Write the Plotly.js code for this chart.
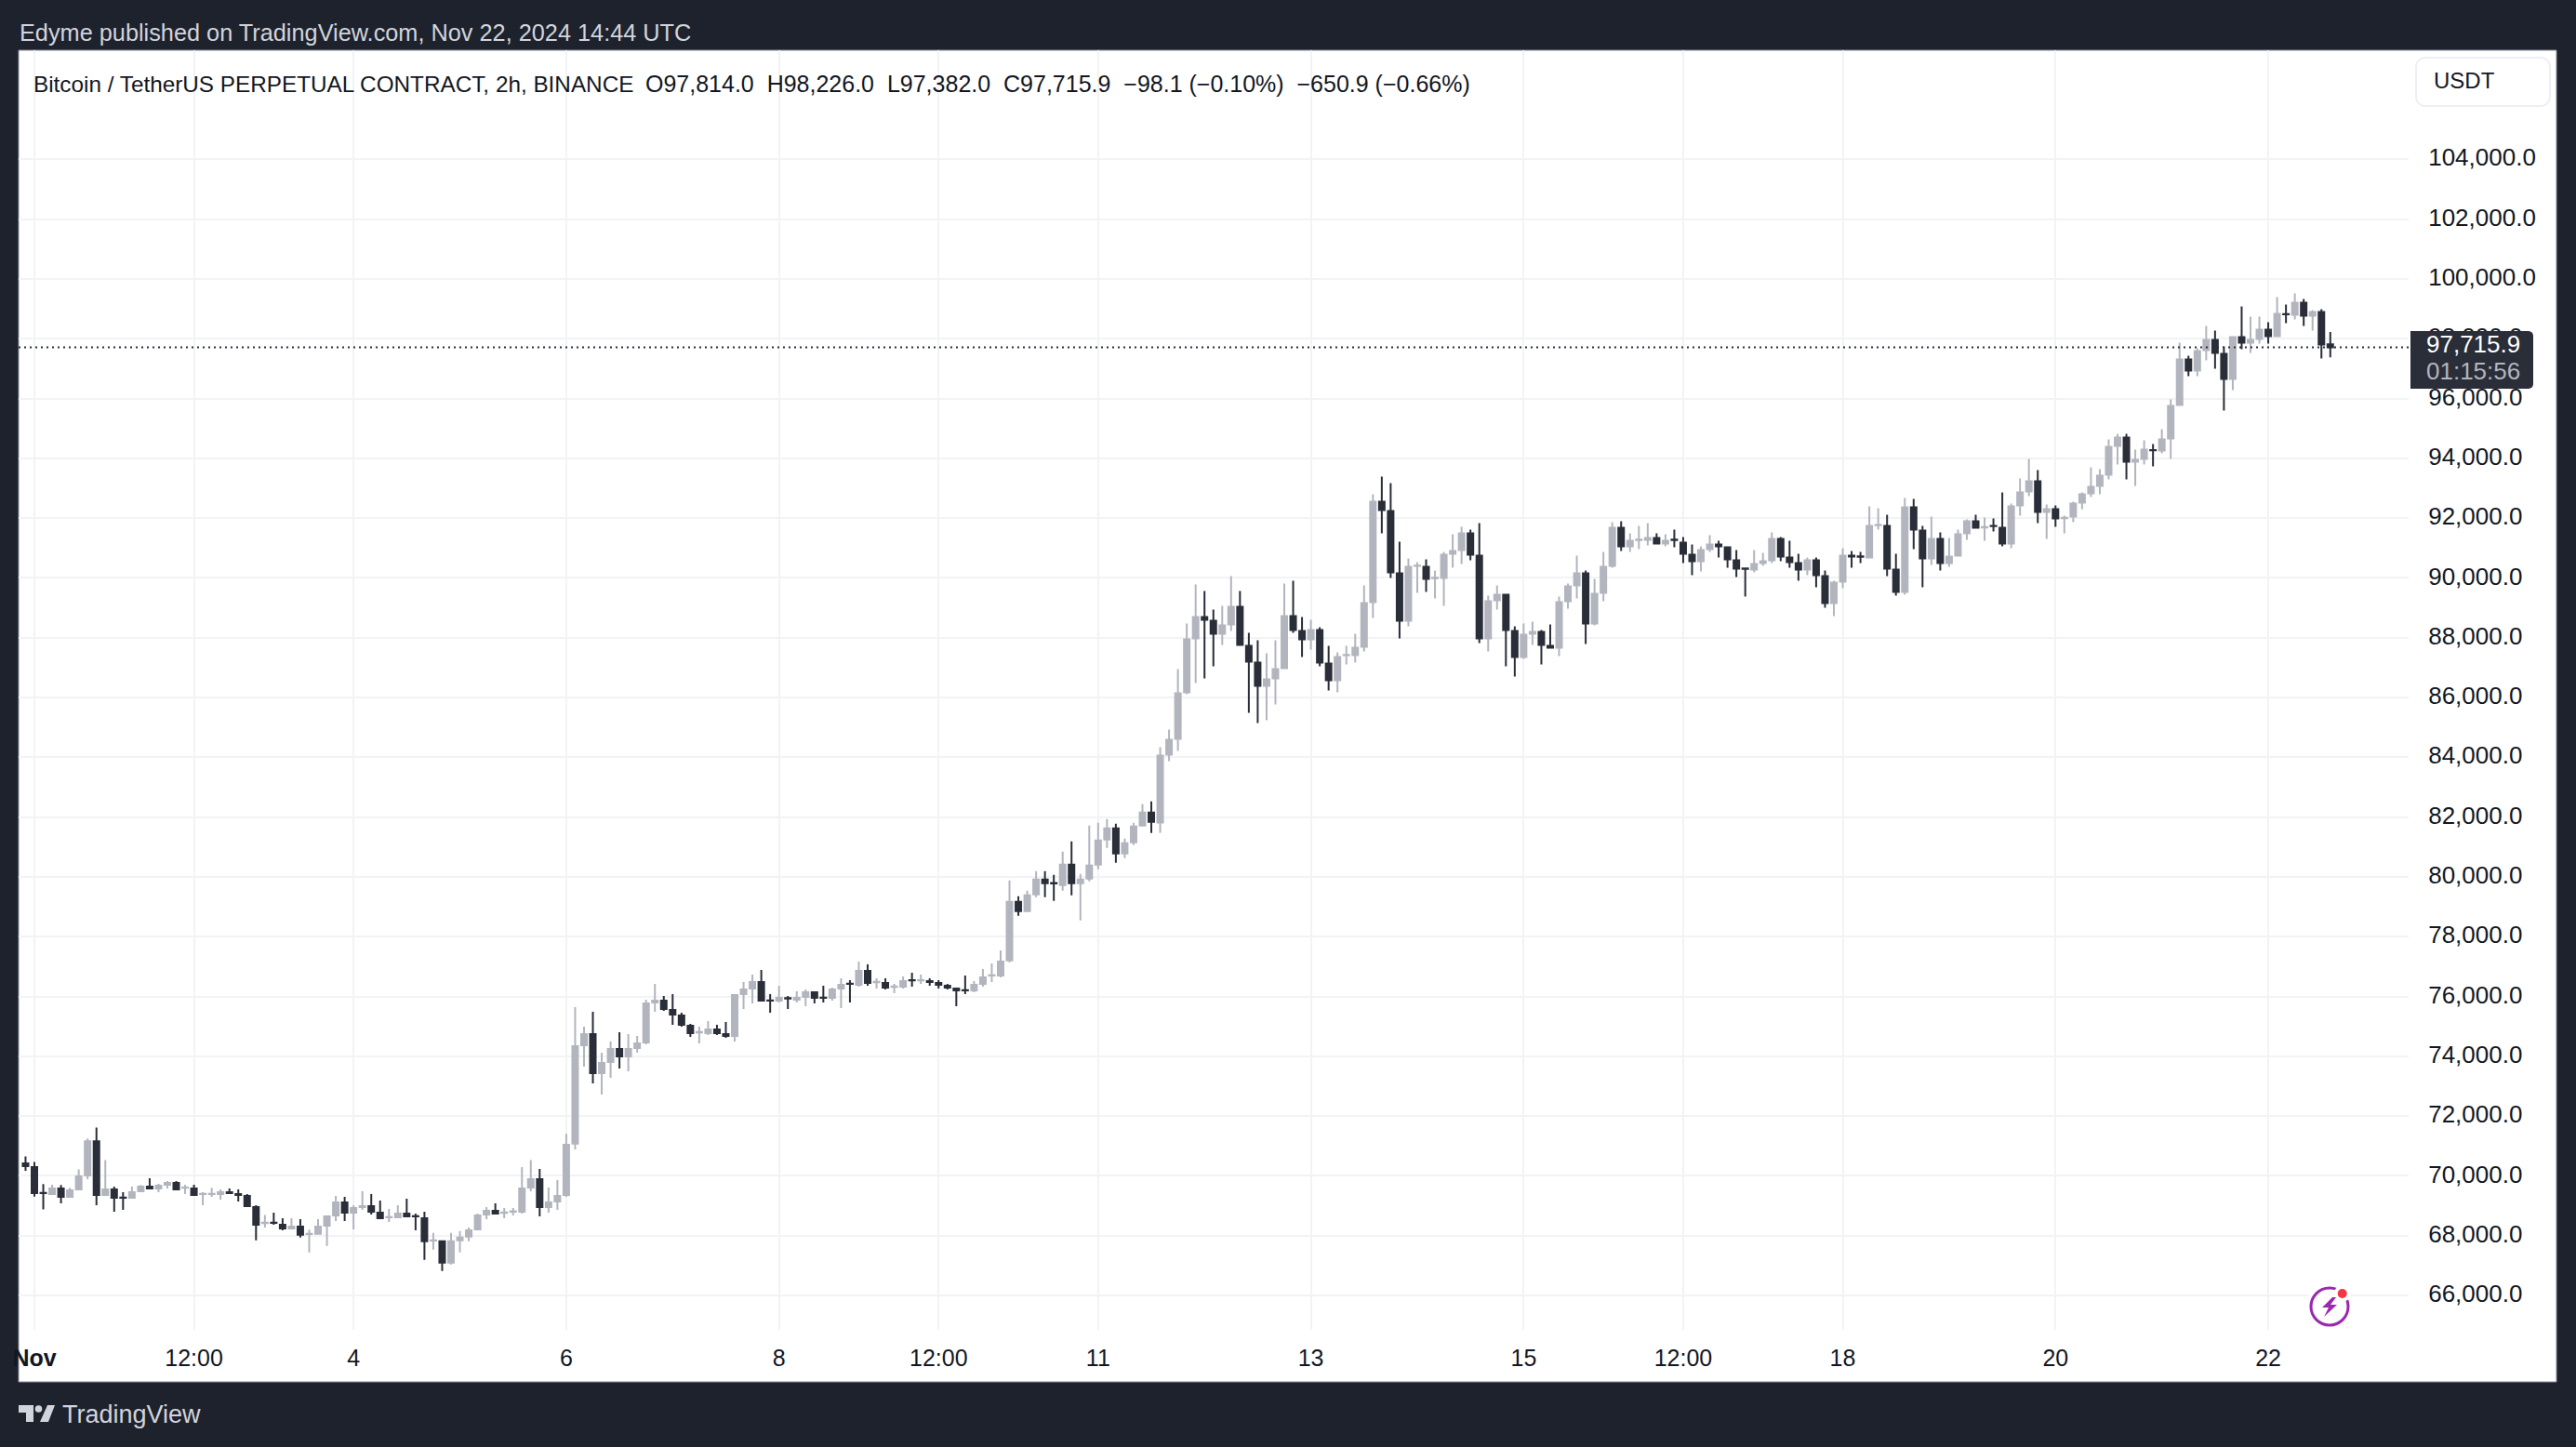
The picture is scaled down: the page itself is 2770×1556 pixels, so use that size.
<!DOCTYPE html>
<html>
<head>
<meta charset="utf-8">
<script src="https://cdn.plot.ly/plotly-3.0.1.min.js"></script>
<style>html,body{margin:0;padding:0;background:#1e222d;overflow:hidden}#chart{width:2770px;height:1556px}</style>
</head>
<body>
<div id="chart"></div>
<script>
// 2h candles; candle position 0 = 1 Nov 00:00 UTC
const opens = [
70418,70294,69435,69394,69580,69301,69549,70014,71162,69363,
69549,69275,69270,69487,69642,69580,69704,69766,69600,69580,
69390,69390,69394,69456,69394,69332,68960,68425,68437,68370,
68246,68308,68055,68060,68339,68680,69115,68773,68960,68991,
68774,68615,68618,68743,68655,68587,67835,67812,67098,67843,
67967,68215,68711,68836,68765,68805,68805,69611,69890,68960,
69146,69363,71084,74371,74745,73438,73811,74247,73998,74278,
74465,75803,75865,75554,75367,75025,74800,74776,74901,74745,
74683,76082,76269,76487,75870,75865,75945,75896,75989,76145,
75964,75958,76269,76430,76394,76860,76480,76456,76325,76331,
76550,76540,76518,76456,76363,76269,76212,76207,76425,76700,
76705,77208,79169,78857,79417,79915,79795,79728,80413,79791,
79946,80413,81253,81626,80786,81159,81719,82155,81817,84088,
84617,86172,87976,88692,88568,88132,88443,89034,87728,87168,
86390,86639,86981,88723,88226,87945,88257,87137,86576,87415,
87416,87696,89190,92550,92239,90154,88568,90400,90372,89995,
89999,90807,90932,91492,90745,87976,89252,89439,88226,87354,
88132,88194,87728,87665,89221,89750,90154,88474,89501,90403,
91679,91056,91270,91274,91337,91150,91280,91181,90777,90559,
90963,91119,91026,90590,90315,90279,90497,90590,91306,90684,
90497,90279,90590,90061,89159,89874,90746,90720,90683,91765,
91741,90279,89532,92363,91586,90652,91306,90497,90746,91492,
91897,91690,91745,91679,91150,92425,92892,93234,92207,92301,
92000,92052,92518,92830,93078,93452,94416,94696,93887,93981,
94280,94261,94665,95785,97310,96936,97621,97963,97496,96656,
98056,97869,97994,98305,98087,98825,98803,99207,98772,98896,
97814];
const highs = [
70655,70469,69725,69704,69694,69601,70221,71255,71617,70531,
69642,69456,69642,69694,69921,69735,69828,69828,69704,69704,
69456,69601,69549,69580,69549,69394,69022,68691,68774,68587,
68587,68556,68205,68556,68680,69332,69301,69022,69487,69394,
69177,68898,69022,69239,68742,68805,68091,67843,68091,68153,
68277,68742,68960,69084,68929,68929,70294,70531,70231,69611,
69859,71410,75647,74994,75492,74123,74496,74807,74745,74683,
75896,76425,76020,76083,75460,75087,74994,75180,75056,75149,
76083,76487,76736,76891,76083,76363,76020,76176,76238,76176,
76363,76300,76611,76549,77171,77078,76611,76611,76425,76674,
76798,76736,76611,76549,76425,76300,76705,76518,76923,77109,
77545,79884,79355,79542,80195,80195,80071,80848,81191,80102,
81720,81813,81937,81782,81284,81813,82435,82528,84337,84928,
86950,88474,89781,89563,88941,89065,90061,89563,88163,87914,
87479,87914,89812,89905,88692,88599,88350,87728,87510,87728,
88132,89750,92799,93390,93172,91212,90652,90527,90621,90248,
90870,91461,91710,91616,91834,89408,89750,89470,88381,88474,
88537,88256,88443,89376,89812,90745,90248,89968,90870,91865,
91896,91492,91741,91834,91492,91461,91616,91368,91119,91057,
91430,91243,91057,90932,90341,90932,90839,91523,91368,91243,
90808,90683,90683,90248,89906,90995,90901,90870,92394,92332,
92114,90808,92674,92643,91741,92052,91523,91337,91617,91959,
92114,92021,91990,92861,92487,93327,93981,93607,92457,92425,
92083,92550,92861,93701,93639,94634,94821,94821,94292,94603,
94478,94976,95972,97870,97434,97683,98430,98274,97745,98087,
99083,98741,98741,98554,99394,99145,99518,99332,98958,98990,
98226];
const lows = [
70169,69311,68877,69363,69084,69270,69518,69890,69022,69332,
68804,68867,69239,69456,69549,69456,69580,69518,69394,69332,
69022,69301,69208,69394,69146,68960,67843,68277,68370,68184,
68215,67936,67440,68029,67657,68494,68494,68215,68867,68711,
68556,68463,68587,68618,68184,67192,67533,66819,67036,67440,
67812,68184,68556,68711,68587,68680,68742,69487,68649,68773,
68867,69301,70887,73656,73096,72723,73283,73594,73500,74123,
74403,75492,75523,75056,74994,74652,74434,74714,74714,74620,
74496,75585,75772,75834,75460,75803,75585,75803,75678,75772,
75803,75865,75616,75803,76331,76363,76269,76238,76114,76269,
76331,76425,76363,76269,76238,75678,76083,76145,76331,76487,
76643,77146,78702,78826,79324,79324,79200,79542,79386,78546,
79853,80257,80973,80475,80631,81066,81688,81471,81474,83870,
84212,86110,86483,86639,87043,87759,88225,87728,85488,85145,
85239,85768,86950,88163,87354,87603,87043,86234,86172,87105,
87168,87541,88661,91492,90000,87976,88381,89501,89532,89314,
89065,90341,90465,90590,87821,87541,88941,87043,86701,87292,
87759,87105,87634,87385,88972,89314,87790,88412,89221,90341,
90901,90870,90963,91088,91119,91056,91026,90497,90092,90217,
90870,90683,90341,90030,89377,90186,90403,90497,90559,90341,
89906,90092,89688,89004,88723,89657,90341,90497,90652,91617,
90061,89408,89439,90963,89688,90435,90248,90372,90715,91275,
91647,91243,91554,91056,90994,92083,92736,91834,91305,91710,
91492,91865,92301,92705,92799,93296,93794,93296,93079,93794,
93732,94167,93981,95754,96750,96750,97278,97000,95598,96283,
97652,97527,97838,97838,98056,98523,98647,98430,98274,97341,
97382];
const closes = [
70324,69425,69425,69580,69301,69518,69983,71162,69363,69549,
69270,69265,69456,69642,69580,69673,69766,69549,69610,69363,
69400,69400,69456,69425,69363,68991,68370,68435,68427,68246,
68308,68029,68065,68308,68649,69115,68773,68929,68991,68805,
68587,68625,68743,68649,68645,67812,67845,67098,67812,67936,
68184,68680,68836,68742,68775,68815,69580,69890,68960,69115,
69332,71038,74341,74745,73438,73781,74247,73998,74247,74434,
75772,75865,75585,75398,75056,74776,74810,74901,74776,74683,
76052,76238,76487,75865,75860,75958,75935,75958,76145,75958,
75954,76238,76394,76420,76860,76456,76490,76300,76335,76518,
76540,76550,76487,76394,76300,76207,76202,76394,76643,76710,
77172,79169,78857,79386,79915,79791,79785,80413,79791,79915,
80382,81222,81626,80786,81129,81689,82155,81844,84057,84586,
86141,87946,88692,88599,88132,88412,89034,87759,87199,86390,
86608,86950,88723,88256,87945,88257,87168,86576,87354,87425,
87666,89159,92550,92270,90185,88568,90372,90410,89967,90005,
90777,90901,91492,90776,87976,89221,89439,88256,87354,88101,
88194,87759,87665,89190,89719,90154,88474,89470,90372,91679,
91056,91243,91280,91337,91150,91243,91270,90808,90559,90932,
91119,91057,90621,90310,90305,90466,90559,91306,90714,90528,
90279,90590,90092,89159,89844,90746,90714,90710,91741,91775,
90310,89532,92363,91617,90652,91306,90497,90715,91461,91897,
91679,91700,91735,91150,92394,92861,93234,92207,92301,91990,
92010,92488,92799,93048,93421,94385,94696,93887,93950,94292,
94270,94634,95754,97310,96936,97590,97963,97527,96656,98056,
97869,97963,98305,98087,98834,98815,99207,98772,98896,97807,
97715.9];
const candlePositions = opens.map((_, i) => i - 1);

const priceTicks = [66000,68000,70000,72000,74000,76000,78000,80000,82000,84000,86000,88000,90000,92000,94000,96000,98000,100000,102000,104000];
const timeTickPositions = [0,18,36,60,84,102,120,144,168,186,204,228,252];
const timeTickLabels = ['<b>Nov</b>','12:00','4','6','8','12:00','11','13','15','12:00','18','20','22'];
const lastPrice = 97715.9;

const headerText = 'Edyme published on TradingView.com, Nov 22, 2024 14:44 UTC';
const legendTitle = 'Bitcoin / TetherUS PERPETUAL CONTRACT, 2h, BINANCE';
const legendValues = 'O97,814.0  H98,226.0  L97,382.0  C97,715.9  −98.1 (−0.10%)  −650.9 (−0.66%)';

// page geometry
const PL = 20, PR = 2590, PT = 54, PB = 1430;
const fx = px => (px - PL) / (PR - PL);
const fy = py => 1 - (py - PT) / (PB - PT);
const P = pts => pts.map((p, i) => (i ? 'L' : 'M') + fx(p[0]) + ',' + fy(p[1])).join(' ') + ' Z';
const rect = (x0, y0, x1, y1, fill, extra) => Object.assign({type:'rect', xref:'paper', yref:'paper', x0:fx(x0), x1:fx(x1), y0:fy(y0), y1:fy(y1), fillcolor:fill, line:{width:0}, layer:'below'}, extra || {});
const circ = (cx, cy, r, fill, lineCol, lw) => ({type:'circle', xref:'paper', yref:'paper', x0:fx(cx-r), x1:fx(cx+r), y0:fy(cy-r), y1:fy(cy+r), fillcolor:fill, line:{color:lineCol||fill, width:lw||0}, layer:'above'});
const poly = (pts, fill, layer) => ({type:'path', xref:'paper', yref:'paper', path:P(pts), fillcolor:fill, line:{width:0}, layer:layer||'above'});
const FONT = '"Liberation Sans", Arial, sans-serif';
const note = (x, y, text, size, color, anchor) => ({xref:'paper', yref:'paper', x:fx(x), y:fy(y), text, showarrow:false, xanchor:anchor||'left', yanchor:'middle', font:{family:FONT, size, color}, xshift:0, yshift:0});

// rounded price tag
const tag = (x0, y0, x1, y1, r) => {
  const ang = [];
  const add = (cx, cy, a0) => { for (let k = 0; k <= 4; k++) { const a = (a0 + k * 22.5) * Math.PI / 180; ang.push([cx + r * Math.cos(a), cy + r * Math.sin(a)]); } };
  ang.push([x0, y0]);
  add(x1 - r, y0 + r, -90);
  add(x1 - r, y1 - r, 0);
  ang.push([x0, y1]);
  return ang;
};
const ring = (x0, y0, x1, y1, r) => {
  const pts = [];
  const add = (cx, cy, a0) => { for (let k = 0; k <= 6; k++) { const a = (a0 + k * 15) * Math.PI / 180; pts.push([cx + r * Math.cos(a), cy + r * Math.sin(a)]); } };
  add(x0 + r, y0 + r, 180); add(x1 - r, y0 + r, 270); add(x1 - r, y1 - r, 0); add(x0 + r, y1 - r, 90);
  return pts;
};

const shapes = [
  rect(20, 54, 2749, 1486, '#ffffff', {line:{color:'#8a8d96', width:1}}),
  // last price dotted line
  {type:'line', xref:'paper', yref:'y', x0:0, x1:1, y0:lastPrice, y1:lastPrice, line:{color:'#2a2e39', width:2, dash:'2px,4px'}, layer:'above'},
  poly(tag(2592, 356, 2724, 418, 5), '#2a2e39'),
  // USDT box
  {type:'path', xref:'paper', yref:'paper', path:P(ring(2598, 62, 2742, 114, 10)), fillcolor:'#ffffff', line:{color:'#eeeff4', width:2}, layer:'above'},
  // flash icon
  circ(2505, 1405, 25, '#ffffff'),
  circ(2505, 1405, 20, '#ffffff', '#9c27b0', 3),
  circ(2518.7, 1391, 9, '#ffffff'),
  circ(2518.7, 1391, 5, '#f23645'),
  poly([[2508,1395],[2497,1406],[2504,1406],[2499,1416],[2513,1403],[2506,1403],[2512,1395]], '#9c27b0'),
  // TradingView logo
  poly([[20,1511],[36,1511],[36,1529],[28,1529],[28,1519],[20,1519]], '#d1d4dc'),
  circ(41.5, 1515, 3.8, '#d1d4dc'),
  poly([[51,1511],[59,1511],[52,1529],[43,1529]], '#d1d4dc')
];

const annotations = [
  note(18.5, 35, headerText, 25.3, '#d1d4dc'),
  note(34, 90, legendTitle, 24.3, '#131722'),
  note(692, 90, legendValues, 25, '#131722'),
  note(2615, 87, 'USDT', 24, '#131722'),
  note(2712, 370, '97,715.9', 26, '#ffffff', 'right'),
  note(2712, 399, '01:15:56', 26, '#b2b5be', 'right'),
  note(64.5, 1521, 'TradingView', 27, '#d1d4dc')
];

const data = [{
  type: 'candlestick',
  x: candlePositions,
  open: opens, high: highs, low: lows, close: closes,
  whiskerwidth: 0,
  increasing: {line:{color:'#b2b5be', width:2}, fillcolor:'#b2b5be'},
  decreasing: {line:{color:'#2a2e39', width:2}, fillcolor:'#2a2e39'},
  hoverinfo: 'skip',
  showlegend: false
}];

const layout = {
  width: 2770, height: 1556,
  paper_bgcolor: '#1e222d',
  plot_bgcolor: '#ffffff',
  margin: {l: PL, r: 2770 - PR, t: PT, b: 1556 - PB, pad: 0},
  boxgap: 0.37,
  boxgroupgap: 0,
  showlegend: false,
  hovermode: false,
  dragmode: false,
  xaxis: {
    type: 'linear',
    range: [(PL - 37) / 9.532, (PR - 37) / 9.532],
    rangeslider: {visible: false},
    tickmode: 'array', tickvals: timeTickPositions, ticktext: timeTickLabels,
    showgrid: true, gridcolor: '#f2f3f5', gridwidth: 2,
    zeroline: false, showline: false,
    ticks: 'outside', ticklen: 8, tickcolor: 'rgba(0,0,0,0)',
    tickangle: 0,
    tickfont: {family: FONT, size: 25, color: '#131722'}
  },
  yaxis: {
    type: 'linear',
    side: 'right',
    range: [64852, 107651],
    tickmode: 'array', tickvals: priceTicks,
    tickformat: ',.1f',
    showgrid: true, gridcolor: '#f2f3f5', gridwidth: 2,
    zeroline: false, showline: false,
    ticks: 'outside', ticklen: 15, tickcolor: 'rgba(0,0,0,0)',
    ticklabelshift: -2,
    tickfont: {family: FONT, size: 26, color: '#131722'}
  },
  shapes, annotations
};

Plotly.newPlot('chart', data, layout, {displayModeBar: false, staticPlot: true, responsive: false});
</script>
</body>
</html>
